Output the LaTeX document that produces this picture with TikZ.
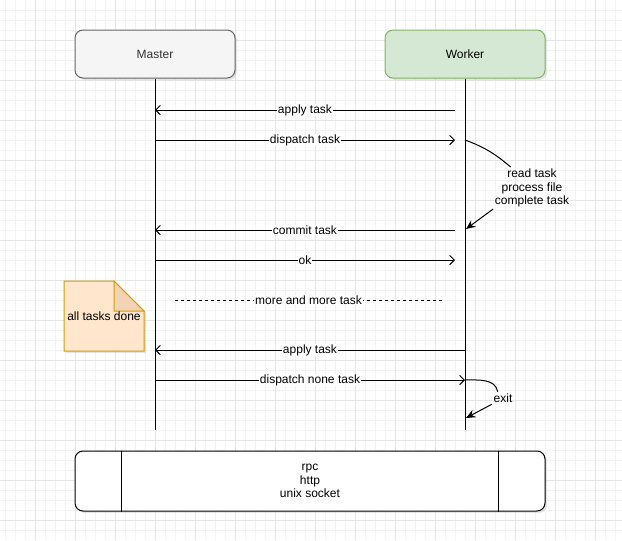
\documentclass[tikz,border=0pt]{standalone}
\usepackage{fontspec}
\setmainfont{Liberation Sans}
\usetikzlibrary{arrows.meta,shadows}
\definecolor{gridminor}{HTML}{F3F3F3}
\definecolor{gridmajor}{HTML}{E6E6E6}
\definecolor{masterfill}{HTML}{F5F5F5}
\definecolor{masterline}{HTML}{666666}
\definecolor{mastertext}{HTML}{333333}
\definecolor{workerfill}{HTML}{D5E8D4}
\definecolor{workerline}{HTML}{82B366}
\definecolor{notefill}{HTML}{FFE6CC}
\definecolor{notefold}{HTML}{F2D4B4}
\definecolor{noteline}{HTML}{D79B00}
\begin{document}
\begin{tikzpicture}[x=0.75pt,y=-0.75pt,line width=0.75pt,
    font=\fontsize{9}{10.2}\selectfont,
    shade/.style={drop shadow={opacity=0.2,shadow xshift=1.5pt,shadow yshift=-1.5pt}},
    actor/.style={draw,rounded corners=6pt,minimum width=120pt,minimum height=36pt,shade},
    bus/.style={draw,rounded corners=6pt,minimum width=352.5pt,minimum height=45pt,align=center,fill=white,shade},
    msg/.style={-{Straight Barb[length=3.5pt,width=7pt]}},
    call/.style={-{Stealth[length=7pt,width=6pt]}},
    lbl/.style={fill=white,inner sep=0.5pt}]
  \useasboundingbox (0,0) rectangle (622,540);
  % grid
  \foreach \x in {5,15,...,615} \draw[gridminor] (\x,0) -- (\x,540);
  \foreach \y in {10,20,...,530} \draw[gridminor] (0,\y) -- (622,\y);
  \foreach \x in {35,75,...,595} \draw[gridmajor] (\x,0) -- (\x,540);
  \foreach \y in {40,80,...,520} \draw[gridmajor] (0,\y) -- (622,\y);

  \node[actor,fill=masterfill,draw=masterline,text=mastertext] (M) at (155,54) {Master};
  \node[actor,fill=workerfill,draw=workerline] (W) at (465,54) {Worker};
  \coordinate (Mend) at (155,430);
  \coordinate (Wend) at (465,430);
  \draw (M) -- (Mend);
  \draw (W) -- (Wend);

  \coordinate (m1) at (155,110); \coordinate (w1) at (455,110);
  \coordinate (m2) at (155,140); \coordinate (w2) at (455,140);
  \coordinate (m3) at (155,230); \coordinate (w3) at (455,230);
  \coordinate (m4) at (155,260); \coordinate (w4) at (455,260);
  \coordinate (m5) at (155,350); \coordinate (w5) at (465,350);
  \coordinate (m6) at (155,380); \coordinate (w6) at (465,380);
  \draw[msg] (w1) -- node[lbl]{apply task} (m1);
  \draw[msg] (m2) -- node[lbl]{dispatch task} (w2);
  \draw[msg] (w3) -- node[lbl]{commit task} (m3);
  \draw[msg] (m4) -- node[lbl]{ok} (w4);
  \draw[msg] (w5) -- node[lbl]{apply task} (m5);
  \draw[msg] (m6) -- node[lbl]{dispatch none task} (w6);

  % worker doing its job
  \coordinate (jobin) at (465,140);
  \coordinate (jobout) at (466,229);
  \node[align=center,inner sep=1pt] (job) at (532,188) {read task\\process file\\complete task};
  \draw (jobin) to[out=-20,in=140] ([xshift=-16pt]job.north);
  \draw[call] (job.south west) -- (jobout);

  \coordinate (exitin) at (465,380);
  \coordinate (exitout) at (466,418);
  \node[inner sep=1pt] (exit) at (503,398) {exit};
  \draw (exitin) to[out=0,in=100] ([xshift=-4pt]exit.north);
  \draw[call] (exit.south west) -- (exitout);

  % more tasks
  \coordinate (d1) at (175,300);
  \coordinate (d2) at (442,300);
  \draw[dash pattern=on 2.25pt off 2.25pt] (d1) -- node[lbl]{more and more task} (d2);

  % note
  \filldraw[fill=notefill,draw=noteline,shade] (64,281) -- (114,281) -- (144,311) -- (144,351) -- (64,351) -- cycle;
  \filldraw[fill=notefold,draw=noteline] (114,281) -- (114,311) -- (144,311) -- cycle;
  \node (done) at (104,316) {all tasks done};

  % transport
  \node[bus] (bus) at (310,481) {rpc\\http\\unix socket};
  \draw ([xshift=35.25pt]bus.north west) -- ([xshift=35.25pt]bus.south west);
  \draw ([xshift=-35.25pt]bus.north east) -- ([xshift=-35.25pt]bus.south east);
\end{tikzpicture}
\end{document}
